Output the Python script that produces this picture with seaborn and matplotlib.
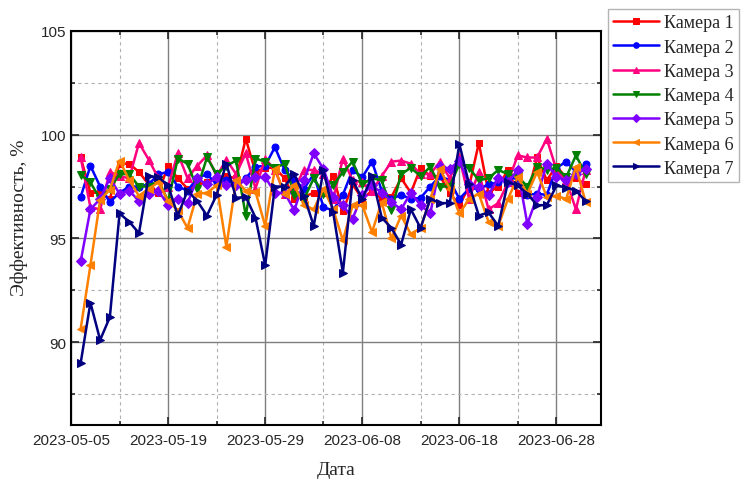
import matplotlib
matplotlib.use("Agg")
import matplotlib.pyplot as plt
import matplotlib.dates as mdates
import seaborn as sns
import pandas as pd
import numpy as np

# daily data, one value per camera
dates = pd.date_range("2023-05-10", periods=53, freq="D")

cam1 = [98.9, 97.2, 97.2, 96.9, 98.6, 98.6, 98.2, 97.6, 97.2, 98.5, 97.9, 97.4, 97.6, 97.7,
        97.9, 98.0, 97.9, 99.8, 98.2, 98.4, 98.4, 97.9, 96.9, 97.0, 97.2, 97.2, 98.0, 96.3,
        97.6, 96.9, 97.3, 96.9, 97.0, 97.9, 97.2, 98.4, 98.0, 98.0, 97.2, 96.6, 97.5, 99.6,
        97.2, 97.5, 98.3, 97.2, 97.1, 98.9, 97.8, 98.5, 97.9, 97.9, 97.6]
cam2 = [97.0, 98.5, 97.5, 96.75, 97.2, 97.5, 97.5, 97.6, 98.1, 98.2, 97.5, 97.3, 97.9, 98.1,
        97.6, 97.8, 97.6, 97.9, 98.45, 98.5, 99.4, 98.3, 97.8, 97.4, 98.1, 96.5, 96.35, 97.1,
        98.3, 97.95, 98.7, 97.3, 96.9, 97.1, 96.9, 96.95, 97.5, 98.0, 97.8, 96.9, 97.4, 97.4,
        97.6, 97.7, 97.9, 97.9, 97.1, 97.15, 97.1, 98.4, 98.7, 98.2, 98.6]
cam3 = [98.9, 96.5, 96.4, 98.2, 98.0, 97.9, 99.6, 98.8, 97.9, 97.5, 99.1, 97.9, 98.5, 99.0,
        98.0, 98.8, 98.1, 99.1, 97.4, 98.85, 98.3, 97.15, 97.4, 98.3, 98.3, 98.1, 96.9, 98.85,
        97.8, 97.7, 97.3, 98.0, 98.7, 98.75, 98.6, 98.1, 98.1, 98.7, 97.9, 98.9, 96.9, 98.2,
        96.4, 96.7, 97.7, 99.0, 98.9, 98.9, 99.8, 98.3, 97.8, 96.4, 98.3]
cam4 = [98.07, 97.7, 96.9, 97.4, 98.1, 98.1, 97.5, 97.5, 97.8, 96.8, 98.85, 98.6, 97.4, 98.9,
        98.1, 98.5, 98.75, 96.1, 98.85, 98.7, 98.4, 98.6, 97.1, 96.9, 97.9, 97.15, 97.55, 98.2,
        98.7, 97.6, 97.9, 97.8, 96.35, 98.1, 98.4, 98.0, 98.45, 97.5, 97.5, 98.6, 98.4, 97.8,
        97.9, 98.3, 98.1, 98.0, 97.5, 98.45, 98.3, 98.4, 97.95, 99.0, 98.1]
cam5 = [93.9, 96.4, 96.9, 97.9, 97.15, 97.3, 96.8, 97.15, 97.3, 96.6, 96.9, 96.7, 97.9, 97.6,
        97.95, 97.55, 97.55, 97.8, 97.95, 97.95, 97.2, 97.2, 96.35, 97.8, 99.1, 98.35, 97.0, 96.6,
        95.95, 97.1, 97.55, 97.2, 96.75, 96.4, 97.2, 96.6, 96.2, 98.5, 98.35, 98.75, 97.6, 97.5,
        97.1, 97.9, 97.7, 98.3, 95.7, 97.0, 98.6, 97.95, 97.8, 98.1, 98.35]
cam6 = [90.65, 93.7, 96.85, 97.35, 98.75, 97.8, 97.05, 97.4, 97.7, 96.8, 96.35, 95.5, 97.15, 97.2,
        97.55, 94.6, 97.8, 97.3, 97.25, 95.6, 98.35, 97.15, 97.55, 96.6, 96.4, 97.4, 96.4, 94.9,
        96.6, 96.6, 95.3, 96.75, 95.0, 96.1, 95.2, 95.5, 96.9, 98.35, 97.4, 96.2, 96.9, 97.15,
        95.8, 95.6, 96.9, 97.95, 97.15, 98.2, 97.0, 97.05, 96.9, 98.45, 96.75]
cam7 = [89.0, 91.9, 90.1, 91.2, 96.2, 95.8, 95.25, 98.0, 97.95, 97.55, 96.1, 97.3, 96.8, 96.1,
        97.1, 98.6, 96.95, 97.0, 96.0, 93.7, 97.5, 97.5, 98.1, 97.05, 95.6, 98.3, 96.25, 93.35,
        97.8, 96.9, 98.0, 96.0, 95.5, 94.7, 96.4, 95.5, 96.9, 96.7, 96.7, 99.55, 97.6, 96.1,
        96.25, 95.6, 97.7, 97.55, 97.15, 96.6, 96.6, 97.55, 97.45, 97.3, 96.8]

labels = ["Камера 1", "Камера 2", "Камера 3", "Камера 4", "Камера 5", "Камера 6", "Камера 7"]
tick_dates = ["2023-05-09", "2023-05-19", "2023-05-29", "2023-06-08", "2023-06-18", "2023-06-28"]
tick_labels = ["2023-05-05", "2023-05-19", "2023-05-29", "2023-06-08", "2023-06-18", "2023-06-28"]

colors = ["#ff0000", "#0000ff", "#ff0080", "#008000", "#8000ff", "#ff8000", "#000080"]
markers = ["s", "o", "^", "v", "D", "<", ">"]
msizes = [5, 5, 6, 6, 5, 6, 6]

sns.set_style("ticks")
serif = ["Liberation Serif", "DejaVu Serif"]
sans = ["Liberation Sans", "DejaVu Sans"]

fig = plt.figure(figsize=(7.41, 4.81), dpi=100)
ax = fig.add_axes([71 / 741, 1 - 426 / 481, 530 / 741, 394 / 481])

series = [cam1, cam2, cam3, cam4, cam5, cam6, cam7]
for vals, lab, c, m, ms in zip(series, labels, colors, markers, msizes):
    sns.lineplot(x=dates, y=vals, ax=ax, color=c, marker=m, markersize=ms,
                 markeredgecolor=c, linewidth=1.8, label=lab, zorder=3)

ax.set_ylim(86, 105)
ax.set_yticks([90, 95, 100, 105])
ax.set_yticks([87.5, 92.5, 97.5, 102.5], minor=True)
ax.set_xlim(pd.Timestamp("2023-05-09"), pd.Timestamp("2023-07-02 14:00"))
ax.set_xticks(pd.to_datetime(tick_dates))
ax.set_xticklabels(tick_labels)
ax.xaxis.set_minor_locator(mdates.DayLocator(bymonthday=[4, 14, 24]))

ax.grid(True, which="major", color="#7f7f7f", linewidth=1.0, linestyle="-", zorder=0)
ax.grid(True, which="minor", color="#b0b0b0", linewidth=0.8, linestyle=(0, (3, 3)), zorder=0)
ax.set_axisbelow(True)

for s in ax.spines.values():
    s.set_linewidth(1.5)
    s.set_color("black")
ax.tick_params(which="both", direction="in", top=True, right=True, width=1.2)
ax.tick_params(which="major", length=6, labelsize=11)
ax.tick_params(which="minor", length=3)
for t in ax.get_xticklabels() + ax.get_yticklabels():
    t.set_family(sans)
ax.tick_params(axis="x", pad=6)

ax.set_xlabel("Дата", family=serif, fontsize=14, labelpad=10)
ax.set_ylabel("Эффективность, %", family=serif, fontsize=14)
ax.yaxis.set_label_coords(-0.081, 0.529)

leg = ax.legend(loc="upper left", bbox_to_anchor=(608 / 741, 1 - 10 / 481),
                bbox_transform=fig.transFigure, frameon=True, fancybox=False,
                edgecolor="#a0a0a0", prop={"family": serif, "size": 13},
                handlelength=2.5, handletextpad=0.3, labelspacing=0.4,
                borderpad=0.3, borderaxespad=0, numpoints=1, markerscale=0.8)
leg.get_frame().set_linewidth(1.0)

fig.savefig("out.png", dpi=100)
